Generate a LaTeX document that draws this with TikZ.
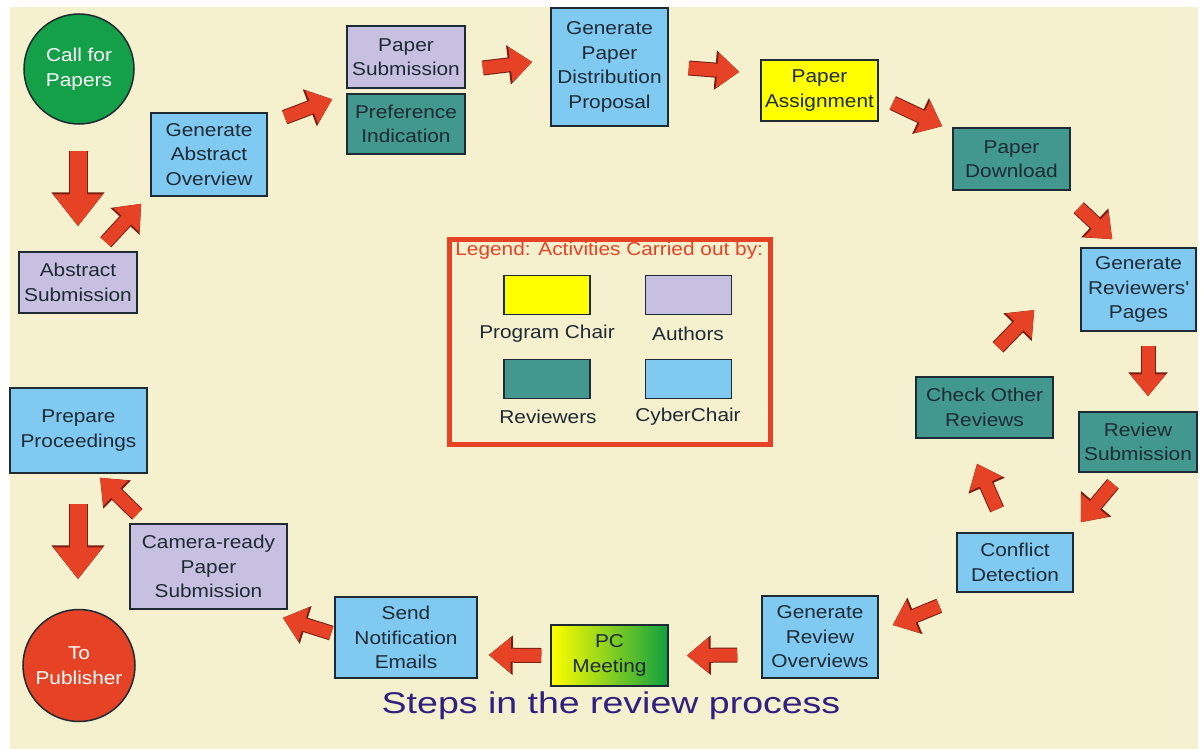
\documentclass[tikz,border=0pt]{standalone}
\usepackage{fontspec}
\setmainfont{Liberation Sans}[FakeStretch=1.12]
\newfontfamily\titlefont{Liberation Sans}[FakeStretch=1.25]
\usetikzlibrary{arrows.meta,calc}

\definecolor{paper}{RGB}{245,240,205}
\definecolor{cyberblue}{RGB}{128,202,242}
\definecolor{authorlilac}{RGB}{200,192,224}
\definecolor{reviewerteal}{RGB}{66,152,142}
\definecolor{chairyellow}{RGB}{255,255,0}
\definecolor{startgreen}{RGB}{20,160,72}
\definecolor{pcgreen}{RGB}{16,160,64}
\definecolor{flowred}{RGB}{230,66,38}
\definecolor{flowedge}{RGB}{120,30,20}
\definecolor{ink}{RGB}{30,42,52}
\definecolor{titleblue}{RGB}{50,32,128}

\tikzset{
    label font/.style={font=\fontsize{9.3}{12.25}\selectfont},
    task/.style={draw=ink, line width=0.75pt, rectangle, align=center, inner sep=0pt, text=ink, label font},
    cyber/.style={task, fill=cyberblue},
    author/.style={task, fill=authorlilac},
    reviewer/.style={task, fill=reviewerteal},
    chair/.style={task, fill=chairyellow},
    endpoint/.style={circle, draw=ink, line width=0.75pt, align=center, inner sep=0pt, text=white, label font, minimum size=55pt},
    swatch/.style={draw=ink, line width=0.75pt, minimum width=43pt, minimum height=19.5pt},
    flow/.style={flowred, line width=6.5pt, -{Triangle[width=17pt,length=11pt]},
        preaction={draw=flowedge, line width=7.5pt, -{Triangle[width=19pt,length=12pt]}}},
    bigflow/.style={flowred, line width=8.5pt, -{Triangle[width=23.5pt,length=16pt]},
        preaction={draw=flowedge, line width=9.5pt, -{Triangle[width=25.5pt,length=17pt]}}}
}

\begin{document}
\begin{tikzpicture}[x=0.5pt, y=-0.5pt]
    \useasboundingbox (0,0) rectangle (1204,749);
    \fill[paper] (10,7) rectangle (1198,749);

    \node[draw=flowred, line width=2.5pt, minimum width=160.5pt, minimum height=102.5pt] (legend) at (610,342) {};
    \node[anchor=west, text=flowred, label font, inner sep=0pt] (legendtitle) at (455,251) {Legend: Activities Carried out by:};
    \node[swatch, fill=chairyellow] (keychair) at (547,295) {};
    \node[swatch, fill=authorlilac] (keyauthor) at (688.5,295) {};
    \node[swatch, fill=reviewerteal] (keyreviewer) at (547,379) {};
    \node[swatch, fill=cyberblue] (keycyber) at (688.5,379) {};
    \node[text=ink, label font] (keychairtext) at (547,334) {Program Chair};
    \node[text=ink, label font] (keyauthortext) at (688,334) {Authors};
    \node[text=ink, label font] (keyreviewertext) at (548,417) {Reviewers};
    \node[text=ink, label font] (keycybertext) at (688,417) {CyberChair};

    \node[endpoint, fill=startgreen] (cfp) at (79,69) {Call for\\Papers};
    \node[author, minimum width=59pt, minimum height=30.5pt] (abs) at (78,282.5) {Abstract\\Submission};
    \node[cyber, minimum width=58pt, minimum height=41.5pt] (gao) at (209,154.5) {Generate\\Abstract\\Overview};
    \node[author, minimum width=59pt, minimum height=31pt] (ps) at (406,57) {Paper\\Submission};
    \node[reviewer, minimum width=59pt, minimum height=30pt] (pi) at (406,124) {Preference\\Indication};
    \node[cyber, minimum width=58.5pt, minimum height=59pt] (gpdp) at (609.5,67) {Generate\\Paper\\Distribution\\Proposal};
    \node[chair, minimum width=58.5pt, minimum height=30.5pt] (pa) at (819.5,90.5) {Paper\\Assignment};
    \node[reviewer, minimum width=58.5pt, minimum height=31pt] (pd) at (1011.5,159) {Paper\\Download};
    \node[cyber, minimum width=57.5pt, minimum height=41.5pt] (grp) at (1138.5,289.5) {Generate\\Reviewers\textquotesingle\\Pages};
    \node[reviewer, minimum width=59pt, minimum height=30pt] (rs) at (1138,442) {Review\\Submission};
    \node[reviewer, minimum width=68.5pt, minimum height=30.5pt] (cor) at (984.5,407.5) {Check Other\\Reviews};
    \node[cyber, minimum width=58pt, minimum height=29.5pt] (cd) at (1015,562.5) {Conflict\\Detection};
    \node[cyber, minimum width=58pt, minimum height=41pt] (gro) at (820,637) {Generate\\Review\\Overviews};
    \node[task, left color=chairyellow, right color=pcgreen, minimum width=58.5pt, minimum height=30.5pt] (pcm) at (609.5,655.5) {PC\\Meeting};
    \node[cyber, minimum width=71pt, minimum height=40.5pt] (sne) at (406,637.5) {Send\\Notification\\Emails};
    \node[author, minimum width=78.5pt, minimum height=42.5pt] (crps) at (208.5,566.5) {Camera-ready\\Paper\\Submission};
    \node[cyber, minimum width=68.5pt, minimum height=42.5pt] (pp) at (78.5,430.5) {Prepare\\Proceedings};
    \node[endpoint, fill=flowred, minimum size=56pt] (tp) at (79,665.5) {To\\Publisher};

    \draw[bigflow] ($(cfp.south)+(-1,26)$) -- ($(abs.north)+(0,-25)$);
    \draw[flow] ($(abs.north east)+(-32,-9)$) -- ($(gao.south west)+(-9,7)$);
    \draw[flow] ($(gao.north east)+(17,5)$) -- ($(pi.north west)+(-14,6)$);
    \draw[flow] ($(ps.east)+(17,11)$) -- ($(gpdp.west)+(-18,-5)$);
    \draw[flow] ($(gpdp.east)+(20,1)$) -- ($(pa.west)+(-21,-18.5)$);
    \draw[flow] ($(pa.east)+(14,12.5)$) -- ($(pd.north west)+(-10,-1)$);
    \draw[flow] ($(pd.south east)+(8,17)$) -- ($(grp.north west)+(32,-8)$);
    \draw[flow] ($(grp.south)+(9.5,14)$) -- ($(rs.north)+(10,-15)$);
    \draw[flow] ($(rs.south)+(-25,11)$) -- ($(cd.north east)+(7,-10)$);
    \draw[flow] ($(cd.north)+(-18,-23)$) -- ($(cor.south)+(-7.5,25)$);
    \draw[flow] ($(cor.north)+(13.5,-29)$) -- ($(grp.west)+(-46,20.5)$);
    \draw[flow] ($(cd.south west)+(-17,13)$) -- ($(gro.east)+(14,-12)$);
    \draw[flow] ($(gro.west)+(-24,18)$) -- ($(pcm.east)+(18,0)$);
    \draw[flow] ($(pcm.west)+(-9,0)$) -- ($(sne.east)+(11,17.5)$);
    \draw[flow] ($(sne.west)+(-3,-4.5)$) -- ($(crps.south east)+(-5,8)$);
    \draw[flow] ($(crps.north west)+(8,-9)$) -- ($(pp.south)+(21.5,4)$);
    \draw[bigflow] ($(pp.south)+(-0.5,30)$) -- ($(tp.north)+(-1,-29.5)$);

    \node[anchor=base, text=titleblue, font=\titlefont\fontsize{15}{18}\selectfont] (title) at (611,713) {Steps in the review process};
\end{tikzpicture}
\end{document}
